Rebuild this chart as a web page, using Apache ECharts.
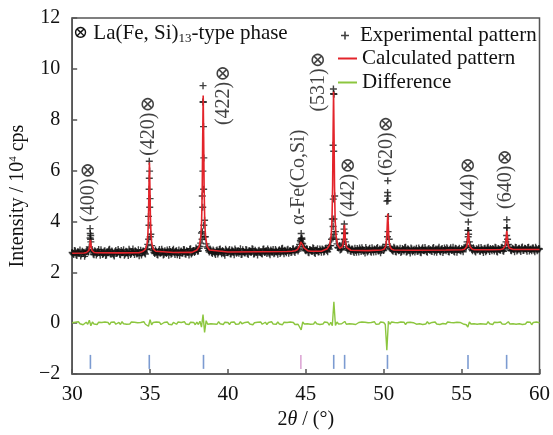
<!DOCTYPE html>
<html>
<head>
<meta charset="utf-8">
<script src="https://cdn.jsdelivr.net/npm/echarts@6/dist/echarts.min.js"></script>
<style>
  html, body { margin: 0; padding: 0; background: #fff; }
  #chart { width: 553px; height: 435px; }
</style>
</head>
<body>
<div id="chart"></div>
<script>
// Powder XRD Rietveld refinement: observed, calculated, difference and Bragg positions.

// Observed intensity (10^4 cps) sampled every 0.1° from 30.00° to 60.00°
const expStart = 30;
const expStep = 0.1;
const expIntensity = [
  2.78, 2.70, 2.84, 2.66, 2.80, 2.88, 2.72, 2.77, 2.63, 2.82,
  2.86, 3.00, 3.20, 2.84, 2.69, 2.81, 2.74, 2.90, 2.67, 2.79,
  2.73, 2.85, 2.68, 2.80, 2.91, 2.71, 2.76, 2.64, 2.86, 2.78,
  2.82, 2.69, 2.77, 2.89, 2.72, 2.80, 2.66, 2.84, 2.75, 2.92,
  2.70, 2.81, 2.76, 2.65, 2.87, 2.79, 2.83, 2.72, 2.90, 4.20,
  4.90, 3.05, 2.86, 2.74, 2.81, 2.68, 2.90, 2.77, 2.83, 2.71,
  2.79, 2.88, 2.67, 2.82, 2.74, 2.91, 2.70, 2.85, 2.78, 2.66,
  2.84, 2.76, 2.89, 2.71, 2.80, 2.68, 2.93, 2.77, 2.86, 2.82,
  2.90, 2.84, 3.02, 3.55, 8.70, 4.05, 3.12, 2.95, 2.80, 2.87,
  2.74, 2.83, 2.70, 2.88, 2.79, 2.92, 2.73, 2.81, 2.67, 2.85,
  2.77, 2.90, 2.72, 2.84, 2.69, 2.86, 2.80, 2.75, 2.93, 2.71,
  2.82, 2.76, 2.88, 2.70, 2.85, 2.79, 2.91, 2.73, 2.81, 2.68,
  2.87, 2.78, 2.72, 2.92, 2.80, 2.74, 2.86, 2.69, 2.83, 2.90,
  2.76, 2.84, 2.71, 2.89, 2.79, 2.95, 2.73, 2.82, 2.88, 2.75,
  2.86, 2.80, 2.93, 2.78, 2.90, 2.84, 3.10, 3.32, 3.12, 2.96,
  2.85, 2.91, 2.77, 2.88, 2.82, 2.94, 2.74, 2.86, 2.80, 2.92,
  2.79, 2.89, 2.83, 2.96, 2.81, 2.92, 3.05, 4.10, 9.00, 3.60,
  3.12, 2.96, 2.88, 2.93, 3.10, 3.55, 3.00, 2.87, 2.95, 2.82,
  2.91, 2.78, 2.86, 2.94, 2.80, 2.89, 2.97, 2.83, 2.76, 2.90,
  2.84, 2.95, 2.79, 2.88, 2.92, 2.81, 2.98, 2.85, 2.77, 2.93,
  2.86, 2.98, 4.80, 4.20, 3.02, 2.90, 2.83, 2.95, 2.80, 2.91,
  2.87, 2.78, 2.94, 2.84, 2.99, 2.81, 2.89, 2.76, 2.92, 2.86,
  2.80, 2.95, 2.83, 2.90, 2.77, 2.97, 2.85, 2.88, 2.79, 2.94,
  2.89, 2.82, 2.98, 2.86, 2.79, 2.93, 2.84, 2.91, 2.78, 2.96,
  2.85, 2.92, 2.80, 2.97, 2.87, 2.83, 2.95, 2.79, 2.90, 2.86,
  2.93, 2.81, 2.96, 2.99, 3.65, 3.20, 2.98, 2.85, 2.92, 2.80,
  2.88, 2.97, 2.83, 2.91, 2.78, 2.95, 2.86, 2.99, 2.82, 2.90,
  2.94, 2.84, 2.97, 2.80, 2.91, 2.87, 2.99, 2.83, 3.05, 3.75,
  3.10, 2.96, 2.85, 2.93, 2.81, 2.98, 2.88, 2.95, 2.82, 3.00,
  2.87, 2.94, 2.83, 2.99, 2.90, 2.85, 2.96, 2.81, 2.93, 2.89,
  2.92
];

// Observed intensity at the intermediate steps, 30.05° to 59.95°
const expMidStart = 30.05;
const expIntensityMid = [
  2.74, 2.86, 2.69, 2.81, 2.76, 2.64, 2.83, 2.79, 2.71, 2.87,
  2.80, 3.35, 2.90, 2.72, 2.85, 2.68, 2.82, 2.77, 2.89, 2.70,
  2.83, 2.66, 2.79, 2.88, 2.73, 2.84, 2.69, 2.81, 2.75, 2.90,
  2.71, 2.86, 2.80, 2.67, 2.83, 2.76, 2.91, 2.70, 2.82, 2.78,
  2.85, 2.72, 2.89, 2.78, 2.68, 2.84, 2.76, 2.92, 3.10, 5.70,
  3.50, 2.92, 2.78, 2.88, 2.70, 2.83, 2.75, 2.91, 2.68, 2.85,
  2.74, 2.82, 2.90, 2.71, 2.86, 2.77, 2.83, 2.69, 2.88, 2.80,
  2.76, 2.90, 2.73, 2.85, 2.79, 2.91, 2.72, 2.84, 2.78, 2.96,
  2.83, 2.95, 3.15, 5.00, 6.50, 3.40, 3.00, 2.86, 2.92, 2.78,
  2.88, 2.76, 2.85, 2.72, 2.90, 2.80, 2.86, 2.74, 2.91, 2.79,
  2.84, 2.73, 2.88, 2.79, 2.92, 2.75, 2.86, 2.82, 2.70, 2.89,
  2.77, 2.90, 2.74, 2.85, 2.80, 2.93, 2.72, 2.87, 2.79, 2.84,
  2.81, 2.74, 2.91, 2.78, 2.86, 2.92, 2.75, 2.88, 2.80, 2.73,
  2.90, 2.79, 2.85, 2.74, 2.93, 2.81, 2.87, 2.77, 2.91, 2.84,
  2.78, 2.92, 2.83, 2.88, 2.95, 2.90, 3.25, 3.30, 3.02, 2.88,
  2.93, 2.79, 2.90, 2.84, 2.97, 2.78, 2.88, 2.93, 2.81, 2.87,
  2.92, 2.80, 2.94, 2.86, 2.99, 3.05, 3.30, 7.00, 5.00, 3.30,
  2.98, 3.05, 2.90, 3.15, 3.70, 3.20, 2.93, 2.99, 2.85, 2.92,
  2.83, 2.95, 2.79, 2.88, 2.96, 2.82, 2.90, 2.86, 2.98, 2.80,
  2.91, 2.83, 2.97, 2.80, 2.89, 2.94, 2.84, 2.92, 2.87, 2.99,
  2.92, 3.10, 5.00, 3.30, 2.95, 2.86, 2.99, 2.82, 2.93, 2.85,
  2.95, 2.82, 2.90, 2.97, 2.80, 2.93, 2.85, 2.96, 2.81, 2.91,
  2.88, 2.83, 2.96, 2.79, 2.92, 2.86, 2.98, 2.82, 2.91, 2.87,
  2.84, 2.95, 2.80, 2.92, 2.88, 2.99, 2.81, 2.94, 2.86, 2.90,
  2.97, 2.82, 2.91, 2.86, 2.99, 2.80, 2.93, 2.88, 2.95, 2.84,
  2.89, 2.97, 3.00, 3.20, 3.50, 3.05, 2.90, 2.97, 2.84, 2.93,
  2.91, 2.84, 2.98, 2.87, 2.93, 2.81, 2.96, 2.89, 2.94, 2.85,
  2.90, 2.99, 2.83, 2.94, 2.88, 2.97, 2.85, 2.92, 3.20, 3.30,
  2.98, 2.87, 2.95, 2.90, 2.99, 2.84, 2.93, 2.88, 2.97, 2.86,
  2.95, 2.89, 2.98, 2.84, 2.92, 2.96, 2.87, 2.99, 2.85, 2.94
];

// Additional observed points on the steep peak flanks [2θ, intensity]
const expPeakPoints = [
  [31.15, 3.72], [31.16, 3.53], [31.18, 3.30], [31.19, 3.45],
  [34.95, 6.37], [34.97, 5.98], [34.94, 5.27], [34.98, 4.56], [34.93, 3.85], [35.01, 3.40], [34.91, 3.30],
  [38.40, 9.34], [38.42, 8.70], [38.43, 7.73], [38.39, 5.98], [38.44, 5.27], [38.38, 4.56], [38.45, 3.85], [38.36, 3.60], [38.47, 3.40], [38.34, 3.30],
  [44.70, 3.53], [44.74, 3.35], [44.68, 3.20], [44.76, 3.15],
  [46.77, 9.21], [46.78, 9.02], [46.79, 6.76], [46.76, 4.88], [46.80, 4.10], [46.75, 3.80], [46.81, 3.50], [46.74, 3.35],
  [47.47, 3.90], [47.49, 3.53], [47.46, 3.30],
  [50.26, 5.60], [50.25, 5.14], [50.27, 4.82], [50.28, 3.60], [50.24, 3.40],
  [55.43, 3.98], [55.44, 3.65], [55.42, 3.40],
  [57.90, 4.07], [57.91, 3.75], [57.89, 3.45]
];

// Calculated profile [2θ, intensity]
const calcProfile = [
  [30.00, 2.75], [30.77, 2.76], [30.92, 2.78], [31.02, 2.81], [31.07, 2.86], [31.11, 2.97], [31.14, 3.14],
  [31.17, 3.28], [31.20, 3.14], [31.23, 2.97], [31.27, 2.86], [31.32, 2.81], [31.42, 2.78], [31.57, 2.77],
  [33.00, 2.765], [34.30, 2.77],
  [34.56, 2.83], [34.71, 2.91], [34.81, 3.13], [34.86, 3.48], [34.90, 4.23], [34.93, 5.38],
  [34.96, 6.32], [34.99, 5.38], [35.02, 4.23], [35.06, 3.48], [35.11, 3.13], [35.21, 2.91], [35.36, 2.83],
  [36.50, 2.78], [37.70, 2.785],
  [38.01, 2.88], [38.16, 3.02], [38.26, 3.41], [38.31, 4.02], [38.35, 5.32], [38.38, 7.32],
  [38.41, 8.95], [38.44, 7.32], [38.47, 5.32], [38.51, 4.02], [38.56, 3.41], [38.66, 3.02], [38.81, 2.88],
  [40.00, 2.80], [42.00, 2.81], [43.80, 2.82],
  [44.12, 2.83], [44.32, 2.85], [44.47, 2.90], [44.57, 2.97], [44.62, 3.06], [44.67, 3.20],
  [44.72, 3.25], [44.77, 3.20], [44.82, 3.06], [44.87, 2.97], [44.97, 2.90], [45.12, 2.85], [45.32, 2.83],
  [46.00, 2.83],
  [46.38, 2.93], [46.53, 3.08], [46.63, 3.47], [46.68, 4.09], [46.72, 5.41], [46.75, 7.44],
  [46.78, 9.10], [46.81, 7.44], [46.84, 5.41], [46.88, 4.09], [46.93, 3.47], [47.03, 3.09], [47.18, 2.95],
  [47.23, 2.94], [47.33, 3.00], [47.38, 3.09], [47.42, 3.29], [47.45, 3.61],
  [47.48, 3.87], [47.51, 3.59], [47.54, 3.27], [47.58, 3.07], [47.63, 2.97], [47.73, 2.90], [47.88, 2.87],
  [49.00, 2.855], [49.86, 2.88],
  [50.01, 2.91], [50.11, 3.00], [50.16, 3.15], [50.20, 3.45], [50.23, 3.92],
  [50.26, 4.30], [50.29, 3.92], [50.32, 3.45], [50.36, 3.15], [50.41, 3.00], [50.51, 2.91], [50.66, 2.88],
  [52.00, 2.87], [54.00, 2.88],
  [55.03, 2.89], [55.18, 2.91], [55.28, 2.95], [55.33, 3.02], [55.37, 3.18], [55.40, 3.41],
  [55.43, 3.60], [55.46, 3.41], [55.49, 3.18], [55.53, 3.02], [55.58, 2.95], [55.68, 2.91], [55.83, 2.89],
  [57.00, 2.89],
  [57.50, 2.90], [57.65, 2.92], [57.75, 2.96], [57.80, 3.04], [57.84, 3.19], [57.87, 3.43],
  [57.90, 3.63], [57.93, 3.43], [57.96, 3.19], [58.00, 3.04], [58.05, 2.96], [58.15, 2.92], [58.30, 2.90],
  [60.00, 2.90]
];

// Difference (observed − calculated), sampled every 0.1° from 30.00° to 60.00°
const diffIntensity = [
  0.02, -0.05, 0.04, -0.03, 0.06, -0.02, 0.03, -0.06, 0.01, 0.04,
  -0.04, 0.12, -0.10, 0.05, -0.03, 0.02, -0.05, 0.04, -0.02, 0.03,
  -0.04, 0.05, -0.02, 0.03, -0.06, 0.04, -0.01, 0.05, -0.04, 0.02,
  0.03, -0.05, 0.06, -0.02, 0.04, -0.04, 0.02, -0.03, 0.05, -0.02,
  0.04, -0.03, 0.02, -0.05, 0.03, -0.02, 0.06, -0.04, 0.03, -0.12,
  0.14, -0.06, 0.03, -0.04, 0.05, -0.02, 0.04, -0.05, 0.02, 0.03,
  -0.03, 0.05, -0.04, 0.02, -0.06, 0.03, 0.01, -0.04, 0.05, -0.02,
  0.03, -0.04, 0.06, -0.03, 0.02, -0.05, 0.04, -0.02, 0.03, -0.06,
  0.04, -0.05, 0.08, -0.15, 0.34, -0.36, 0.10, -0.04, 0.03, -0.02,
  0.05, -0.03, 0.02, -0.04, 0.06, -0.02, 0.03, -0.05, 0.04, -0.01,
  0.03, -0.05, 0.04, -0.02, 0.05, -0.04, 0.02, -0.03, 0.06, -0.02,
  -0.04, 0.03, -0.02, 0.05, -0.03, 0.04, -0.06, 0.02, -0.01, 0.04,
  -0.03, 0.05, -0.04, 0.02, 0.04, -0.05, 0.03, -0.02, 0.06, -0.03,
  0.02, -0.04, 0.05, -0.03, 0.03, -0.06, 0.04, -0.02, 0.03, -0.04,
  0.05, -0.02, 0.03, -0.05, 0.02, -0.04, -0.08, -0.26, 0.05, -0.03,
  0.04, -0.02, 0.05, -0.04, 0.02, -0.03, 0.06, -0.02, 0.04, -0.05,
  0.02, -0.03, 0.05, -0.02, 0.03, -0.08, 0.04, -0.10, 0.84, -0.09,
  0.05, -0.03, 0.04, -0.02, -0.06, 0.07, -0.04, 0.03, -0.02, 0.05,
  -0.03, 0.04, -0.05, 0.02, 0.03, -0.04, 0.05, -0.02, 0.04, -0.03,
  0.02, -0.05, 0.03, -0.02, 0.06, -0.04, 0.02, -0.03, 0.05, -0.02,
  0.03, -0.05, -1.06, 0.08, -0.04, 0.05, -0.02, 0.03, -0.04, 0.02,
  -0.03, 0.05, -0.02, 0.04, -0.05, 0.03, -0.01, 0.04, -0.03, 0.02,
  0.05, -0.04, 0.03, -0.02, 0.04, -0.05, 0.02, -0.03, 0.06, -0.02,
  -0.04, 0.03, -0.02, 0.05, -0.03, 0.04, -0.05, 0.02, -0.01, 0.04,
  -0.03, 0.05, -0.02, 0.03, -0.04, 0.02, -0.05, 0.04, -0.02, 0.03,
  0.04, -0.03, 0.02, -0.06, -0.15, 0.05, -0.03, 0.04, -0.02, 0.05,
  -0.04, 0.03, -0.02, 0.05, -0.03, 0.02, -0.04, 0.06, -0.02, 0.03,
  -0.05, 0.04, -0.02, 0.03, -0.04, 0.05, -0.03, 0.02, -0.04, -0.09,
  0.06, -0.03, 0.04, -0.02, 0.05, -0.04, 0.03, -0.02, 0.04, -0.05,
  0.02, -0.03, 0.05, -0.02, 0.04, -0.06, 0.03, -0.02, 0.05, 0.03,
  0.02
];

// Bragg reflection positions (2θ)
const mainPhaseReflections = [31.17, 34.95, 38.43, 46.79, 47.49, 50.24, 55.41, 57.89];
const ironPhaseReflections = [44.68];
const braggTickLevel = -1.52;

// Reflection annotations, anchored at [2θ, intensity] of the text's lower end
const peakLabelText = ['(400)⊗', '(420)⊗', '(422)⊗', 'α-Fe(Co,Si)', '(531)⊗', '(442)⊗', '(620)⊗', '(444)⊗', '(640)⊗'];
const peakLabelX = [31.05, 34.92, 39.75, 44.55, 45.84, 47.75, 50.22, 55.43, 57.84];
const peakLabelY = [3.98, 6.58, 7.79, 3.86, 8.32, 4.17, 5.80, 4.17, 4.49];

// Axis settings
const xMin = 30, xMax = 60, xInterval = 5;
const yMin = -2, yMax = 12, yInterval = 2;

const SERIF = '"Liberation Serif", "Times New Roman", "DejaVu Serif", serif';
const plusPath = 'path://M4,0H6V4H10V6H6V10H4V6H0V4H4Z';
const frameColor = '#555';

const atStep = (start, step) => (v, i) => [+(start + i * step).toFixed(2), v];
const expData = expIntensity.map(atStep(expStart, expStep))
  .concat(expIntensityMid.map(atStep(expMidStart, expStep)))
  .concat(expPeakPoints);
const diffData = diffIntensity.map(atStep(expStart, expStep));

const chart = echarts.init(document.getElementById('chart'), null, { renderer: 'canvas' });

chart.setOption({
  animation: false,
  backgroundColor: '#fff',
  textStyle: { fontFamily: SERIF },
  title: {
    text: '{sym|⊗} La(Fe, Si){sub|13}-type phase',
    left: 68,
    top: 17,
    textStyle: {
      fontFamily: SERIF,
      fontSize: 21,
      fontWeight: 'normal',
      color: '#111',
      rich: {
        sym: { fontFamily: SERIF, fontSize: 18, color: '#111' },
        sub: { fontFamily: SERIF, fontSize: 13, color: '#111', padding: [10, 0, 0, 0] }
      }
    }
  },
  legend: [
    {
      data: [{ name: 'Experimental pattern', icon: plusPath }],
      left: 336,
      top: 20,
      itemWidth: 8,
      itemHeight: 8,
      selectedMode: false,
      textStyle: { fontFamily: SERIF, fontSize: 21, color: '#111', padding: [0, 0, 0, 6] }
    },
    {
      data: [
        { name: 'Calculated pattern', icon: 'rect' },
        { name: 'Difference', icon: 'rect' }
      ],
      orient: 'vertical',
      left: 333,
      top: 43,
      itemWidth: 19,
      itemHeight: 2,
      itemGap: 3,
      selectedMode: false,
      textStyle: { fontFamily: SERIF, fontSize: 21, color: '#111', lineHeight: 21 }
    }
  ],
  grid: {
    left: 68,
    right: 13,
    top: 18,
    bottom: 56,
    show: true,
    borderColor: frameColor,
    borderWidth: 1.5,
    backgroundColor: 'transparent'
  },
  xAxis: {
    type: 'value',
    min: xMin,
    max: xMax,
    interval: xInterval,
    name: '2{i|θ} / (°)',
    nameLocation: 'middle',
    nameGap: 33,
    nameTextStyle: {
      fontFamily: SERIF, fontSize: 20, color: '#111',
      rich: { i: { fontFamily: SERIF, fontSize: 20, fontStyle: 'italic', color: '#111' } }
    },
    axisLine: { show: true, onZero: false, lineStyle: { color: frameColor, width: 1.5 } },
    axisTick: { show: true, inside: true, length: 5, lineStyle: { color: frameColor, width: 1.5 } },
    axisLabel: { fontFamily: SERIF, fontSize: 21, color: '#111', margin: 10 },
    splitLine: { show: false }
  },
  yAxis: {
    type: 'value',
    min: yMin,
    max: yMax,
    interval: yInterval,
    name: 'Intensity / 10{sup|4} cps',
    nameLocation: 'middle',
    nameGap: 40,
    nameTextStyle: {
      fontFamily: SERIF, fontSize: 20, color: '#111',
      rich: { sup: { fontFamily: SERIF, fontSize: 11, color: '#111', padding: [0, 0, 9, 0] } }
    },
    axisLine: { show: true, onZero: false, lineStyle: { color: frameColor, width: 1.5 } },
    axisTick: { show: true, inside: true, length: 5, lineStyle: { color: frameColor, width: 1.5 } },
    axisLabel: {
      fontFamily: SERIF, fontSize: 20, color: '#111', margin: 12,
      formatter: v => String(v).replace('-', '\u2212')
    },
    splitLine: { show: false }
  },
  series: [
    {
      name: 'Experimental pattern',
      type: 'scatter',
      data: expData,
      symbol: plusPath,
      symbolSize: 7,
      itemStyle: { color: '#111' },
      silent: true,
      z: 2
    },
    {
      name: 'Calculated pattern',
      type: 'line',
      data: calcProfile,
      showSymbol: false,
      lineStyle: { color: '#e3242b', width: 1.6 },
      itemStyle: { color: '#e3242b' },
      silent: true,
      z: 4
    },
    {
      name: 'Difference',
      type: 'line',
      data: diffData,
      showSymbol: false,
      lineStyle: { color: '#8cc63f', width: 1.4 },
      itemStyle: { color: '#8cc63f' },
      silent: true,
      z: 3
    },
    {
      name: 'Bragg positions',
      type: 'scatter',
      symbol: 'rect',
      symbolSize: [1.6, 14],
      data: mainPhaseReflections.map(x => ({ value: [x, braggTickLevel], itemStyle: { color: '#5b82c6' } }))
        .concat(ironPhaseReflections.map(x => ({ value: [x, braggTickLevel], itemStyle: { color: '#d590c9' } }))),
      silent: true,
      z: 3
    },
    {
      name: 'Reflection labels',
      type: 'scatter',
      symbolSize: 0,
      data: peakLabelText.map((t, i) => ({ name: t, value: [peakLabelX[i], peakLabelY[i]] })),
      label: {
        show: true,
        position: [0, 0],
        rotate: 90,
        align: 'left',
        verticalAlign: 'middle',
        formatter: p => p.name,
        fontFamily: SERIF,
        fontSize: 20,
        color: '#111'
      },
      silent: true,
      z: 5
    }
  ]
});
</script>
</body>
</html>
